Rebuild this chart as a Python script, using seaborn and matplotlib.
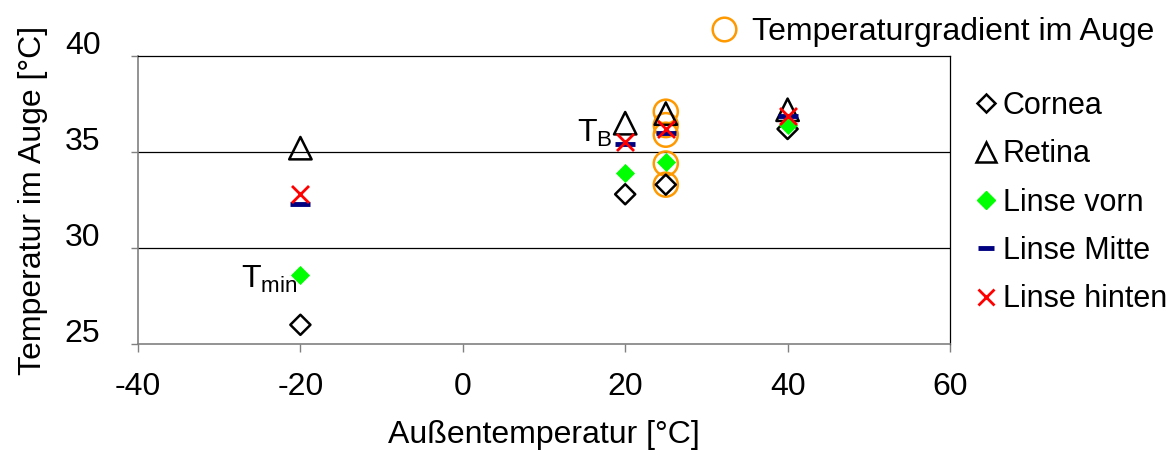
import numpy as np
import pandas as pd
import matplotlib
matplotlib.use("Agg")
import matplotlib.pyplot as plt
import matplotlib.transforms as mtransforms
from matplotlib.lines import Line2D
import seaborn as sns

# data
x_pos = [-20, 20, 25, 40]
cornea = [26.0, 32.8, 33.3, 36.2]
retina = [35.2, 36.5, 37.0, 37.2]
linse_vorn = [28.6, 33.9, 34.5, 36.4]
linse_mitte = [32.3, 35.4, 36.0, 36.9]
linse_hinten = [32.8, 35.5, 36.2, 36.9]

grad_x = [25, 25, 25, 25, 25]
grad_y = [37.1, 36.4, 35.9, 34.4, 33.3]

x_ticks = [-40, -20, 0, 20, 40, 60]
y_ticks = [25, 30, 35, 40]

sns.set_theme(style="white")
plt.rcParams['font.family'] = ['Liberation Sans', 'DejaVu Sans']
plt.rcParams['mathtext.fontset'] = 'custom'
plt.rcParams['mathtext.rm'] = 'Liberation Sans'
plt.rcParams['mathtext.it'] = 'Liberation Sans'
plt.rcParams['text.color'] = 'black'
plt.rcParams['axes.labelcolor'] = 'black'
plt.rcParams['xtick.color'] = 'black'
plt.rcParams['ytick.color'] = 'black'

FS = 23
LFS = 22

fig = plt.figure(figsize=(11.69, 4.5), dpi=100)
ax = fig.add_axes([138/1169, 1 - 344/450, (950-138)/1169, (344-56)/450])

# gradient circles first so the other markers sit on top
styles = [
    ("Temperaturgradient im Auge", grad_x, grad_y, dict(marker='o', s=300, facecolor='none', edgecolor='#FF9900', linewidth=1.8)),
    ("Cornea", x_pos, cornea, dict(marker='D', s=105, facecolor='none', edgecolor='black', linewidth=1.8)),
    ("Retina", x_pos, retina, dict(marker='^', s=260, facecolor='none', edgecolor='black', linewidth=1.8)),
    ("Linse vorn", x_pos, linse_vorn, dict(marker='D', s=95, facecolor='#00FF00', edgecolor='#00FF00', linewidth=0)),
    ("Linse Mitte", x_pos, linse_mitte, dict(marker='_', s=220, color='#000080', linewidth=3.5)),
    ("Linse hinten", x_pos, linse_hinten, dict(marker='x', s=150, color='#FF0000', linewidth=2)),
]
for name, xs, ys, kw in styles:
    df = pd.DataFrame({'x': xs, 'y': ys})
    sns.scatterplot(data=df, x='x', y='y', ax=ax, legend=False, zorder=3, **kw)

ax.set_xlim(-40, 60)
ax.set_ylim(25, 40)
ax.set_xticks(x_ticks)
ax.set_yticks(y_ticks)
ax.set_xticklabels([str(t) for t in x_ticks], fontsize=FS)
ax.set_yticklabels([str(t) for t in y_ticks], fontsize=FS)
ax.tick_params(axis='x', direction='out', length=6, width=1, color='#808080', pad=14)
ax.tick_params(axis='y', direction='out', length=5, width=1, color='#808080', pad=22)
ax.tick_params(bottom=True, left=True)

# labels in the reference sit a bit above the grid lines
offset = mtransforms.ScaledTranslation(0, 14/100, fig.dpi_scale_trans)
for lab in ax.get_yticklabels():
    lab.set_transform(lab.get_transform() + offset)

for v in [30, 35]:
    ax.axhline(v, color='black', linewidth=0.9, zorder=1)

for side in ['left', 'bottom']:
    ax.spines[side].set_color('#808080')
    ax.spines[side].set_linewidth(1.2)
for side in ['top', 'right']:
    ax.spines[side].set_color('black')
    ax.spines[side].set_linewidth(0.9)

ax.set_xlabel("Außentemperatur [°C]", fontsize=FS, labelpad=13)
ax.set_ylabel("Temperatur im Auge [°C]", fontsize=FS, labelpad=12)

ax.text(18.4, 35.95, r"$\mathrm{T_B}$", fontsize=FS, ha='right', va='center')
ax.text(-20.4, 28.35, r"$\mathrm{T_{min}}$", fontsize=FS, ha='right', va='center')

# legends
top_handle = [Line2D([], [], linestyle='none', marker='o', markersize=17, markerfacecolor='none',
                     markeredgecolor='#FF9900', markeredgewidth=1.8)]
fig.legend(top_handle, ["Temperaturgradient im Auge"], loc='center left',
           bbox_to_anchor=(694/1169, 1 - 32/450), frameon=False, fontsize=FS,
           handletextpad=0.3, handlelength=1.1, borderaxespad=0)

handles = [
    Line2D([], [], linestyle='none', marker='D', markersize=9, markerfacecolor='none', markeredgecolor='black', markeredgewidth=1.8),
    Line2D([], [], linestyle='none', marker='^', markersize=14, markerfacecolor='none', markeredgecolor='black', markeredgewidth=1.8),
    Line2D([], [], linestyle='none', marker='D', markersize=9, markerfacecolor='#00FF00', markeredgecolor='#00FF00'),
    Line2D([], [], linestyle='none', marker='_', markersize=12, color='#000080', markeredgewidth=3.5),
    Line2D([], [], linestyle='none', marker='x', markersize=11, color='#FF0000', markeredgewidth=2),
]
labels = ["Cornea", "Retina", "Linse vorn", "Linse Mitte", "Linse hinten"]
fig.legend(handles, labels, loc='upper left', bbox_to_anchor=(972/1169, 1 - 91/450),
           frameon=False, fontsize=LFS, handletextpad=0.1, handlelength=0.9,
           labelspacing=0.6, borderaxespad=0, borderpad=0)

fig.savefig("out.png", dpi=100)
